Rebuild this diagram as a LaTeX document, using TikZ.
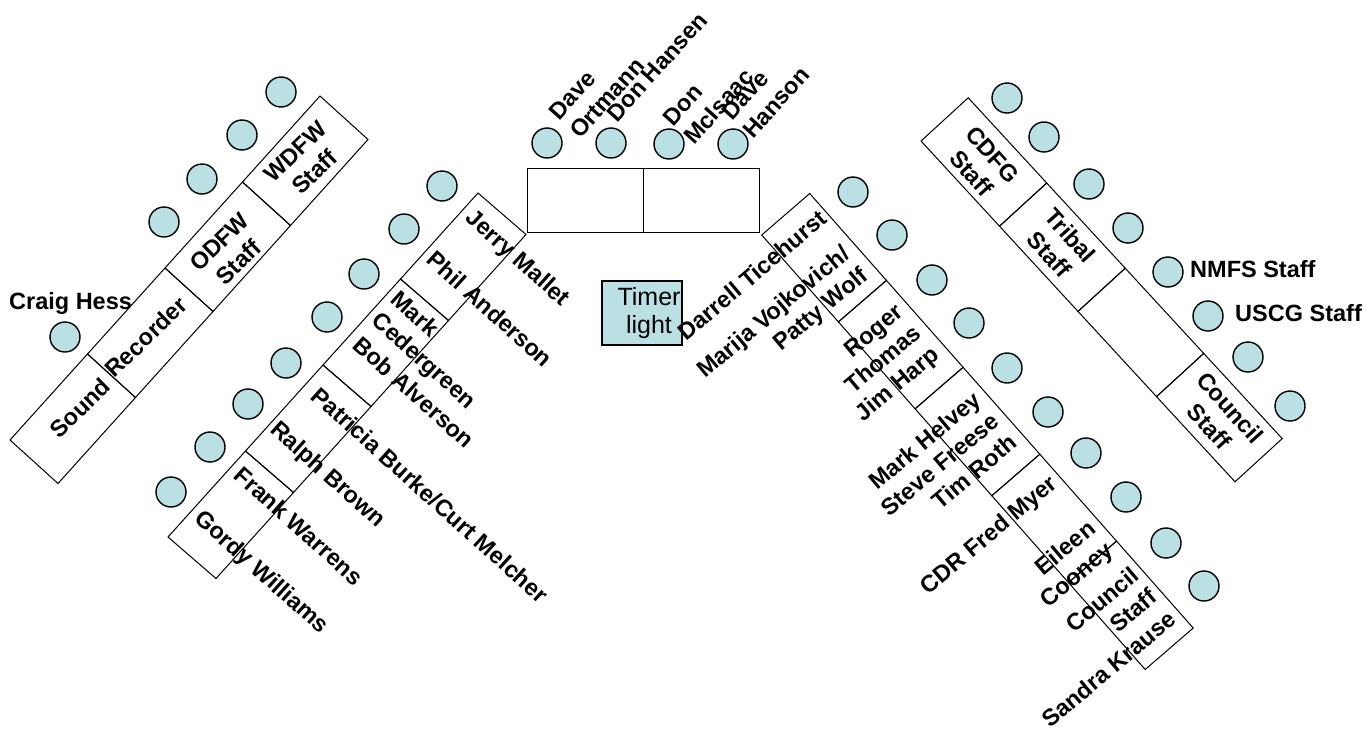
\documentclass[tikz,border=0pt]{standalone}
\usepackage{fontspec}
\setmainfont{Liberation Sans}
\usepackage{xcolor}
\definecolor{seatblue}{HTML}{BBE0E3}
\def\cells#1{\foreach \c in {1,...,#1} \draw (\c-1,0) -- (\c,0) -- (\c,1) -- (\c-1,1) -- cycle;}
\tikzset{
  seat/.style={circle, draw, fill=seatblue, line width=1.4pt, minimum size=30pt, inner sep=0pt},
  who/.style={font=\fontsize{23.5}{28}\selectfont\bfseries, inner sep=1pt},
  desk/.style={line width=1pt}
}

\begin{document}
\begin{tikzpicture}[x=1pt, y=-1pt, font=\fontsize{23.5}{28}\selectfont]
    \useasboundingbox (0,0) rectangle (1367,731);
    % tables
    \begin{scope}[desk, shift={(10,440)}, x={(77.5pt,86pt)}, y={(48pt,-43.5pt)}]
    \cells{4}
    \end{scope}
    \begin{scope}[desk, shift={(168,537)}, x={(77.5pt,86pt)}, y={(48pt,-41.5pt)}]
    \cells{4}
    \end{scope}
    \begin{scope}[desk, shift={(761.7,235)}, x={(76.7pt,-86.9pt)}, y={(48pt,41.5pt)}]
    \cells{5}
    \end{scope}
    \begin{scope}[desk, shift={(921,141)}, x={(78.5pt,-85.2pt)}, y={(47.2pt,43.2pt)}]
    \cells{4}
    \end{scope}
    \draw[desk] (527,168) rectangle (643,232) (643,168) rectangle (759,232);
    \node[draw, fill=seatblue, line width=1.4pt, minimum width=80pt, minimum height=64pt] (timer) at (642,313) {};
    \node[align=center, inner sep=0pt, font=\fontsize{25}{28}\selectfont] (timertext) at (649,313) {Timer\\light};
    % seats
    \foreach \p [count=\i] in {(281,92),(242,135),(202,179),(164,222)}
        \node[seat] (w\i) at \p {};
    \node[seat] (hess) at (65,337) {};
    \foreach \p [count=\i] in {(442,186),(404,229),(364,274),(327,317),(286,363),(248,404),(210,447),(171,492)}
        \node[seat] (j\i) at \p {};
    \foreach \p [count=\i] in {(547,143),(611,143),(669,144),(733,144)}
        \node[seat] (t\i) at \p {};
    \foreach \p [count=\i] in {(853,192),(892,235),(932,280),(969,323),(1007,368),(1048,412),(1086,453),(1126,497),(1166,543),(1204,586)}
        \node[seat] (d\i) at \p {};
    \foreach \p [count=\i] in {(1007,98),(1044,137),(1089,184),(1128,228),(1168,272),(1208,316),(1248,357),(1290,406)}
        \node[seat] (c\i) at \p {};
    % names
    \node[who, anchor=base west] (craig) at (8,309) {Craig Hess};
    \node[who, rotate=44] (sound) at (80,408) {Sound};
    \node[who, rotate=44] (recorder) at (146,337) {Recorder};
    \node[who, rotate=44, align=center] (odfw) at (229,252) {ODFW\\Staff};
    \node[who, rotate=44, align=center] (wdfw) at (305,162) {WDFW\\Staff};
    \node[who, rotate=-42] (jerry) at (517,259) {Jerry Mallet};
    \node[who, rotate=-42] (phil) at (490,309) {Phil Anderson};
    \node[who, rotate=-42, align=left, anchor=west] (mark) at (383,307) {Mark\\Cedergreen};
    \node[who, rotate=-42] (bob) at (414,392) {Bob Alverson};
    \node[who, rotate=-42] (patricia) at (430,495) {Patricia Burke/Curt Melcher};
    \node[who, rotate=-42] (ralph) at (327,475) {Ralph Brown};
    \node[who, rotate=-42] (frank) at (299,526) {Frank Warrens};
    \node[who, rotate=-42] (gordy) at (261,573) {Gordy Williams};
    \node[who, rotate=48, align=left, anchor=west] (ortmann) at (563,126) {Dave\\Ortmann};
    \node[who, rotate=48] (hansen) at (657,67) {Don Hansen};
    \node[who, rotate=48, align=left, anchor=west] (mcisaac) at (677,132) {Don\\McIsaac};
    \node[who, rotate=48, align=left, anchor=west] (hanson) at (736,126) {Dave\\Hanson};
    \node[who, rotate=40] (darrell) at (752,275) {Darrell Ticehurst};
    \node[who, rotate=40, align=right, anchor=east] (marija) at (857,262) {Marija Vojkovich/\\Patty Wolf};
    \node[who, rotate=40, align=right, anchor=east] (roger) at (920,331) {Roger\\Thomas\\Jim Harp};
    \node[who, rotate=40, align=right, anchor=east] (helvey) at (996,417) {Mark Helvey\\Steve Freese\\Tim Roth};
    \node[who, rotate=40] (myer) at (990,536) {CDR Fred Myer};
    \node[who, rotate=40, align=right, anchor=east] (eileen) at (1103,537) {Eileen\\Cooney};
    \node[who, rotate=40, align=right, anchor=east] (council) at (1145,582) {Council\\Staff};
    \node[who, rotate=40] (sandra) at (1109,669) {Sandra Krause};
    \node[who, rotate=-48, align=center] (cdfg) at (982,164) {CDFG\\Staff};
    \node[who, rotate=-48, align=center] (tribal) at (1060,245) {Tribal\\Staff};
    \node[who, rotate=-48, align=center] (councilstaff) at (1220,417) {Council\\Staff};
    \node[who, anchor=base west] (nmfs) at (1189,277) {NMFS Staff};
    \node[who, anchor=base west] (uscg) at (1234,321) {USCG Staff};
\end{tikzpicture}
\end{document}
